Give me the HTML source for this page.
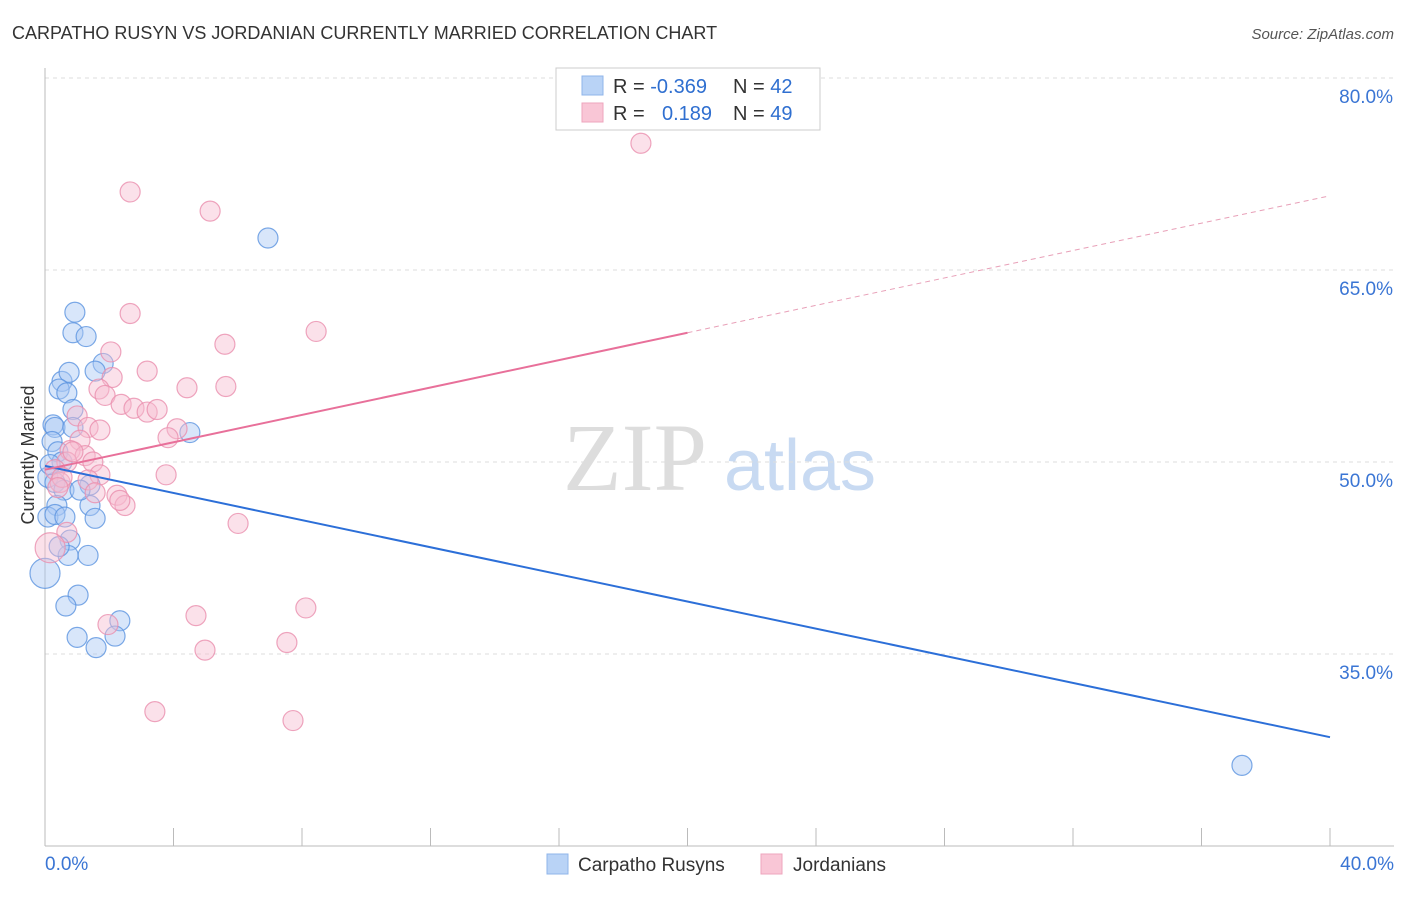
<!DOCTYPE html>
<html><head><meta charset="utf-8"><style>
body{margin:0;background:#fff;font-family:"Liberation Sans",sans-serif}
</style></head><body>
<svg id="c" width="1406" height="892" xmlns="http://www.w3.org/2000/svg" font-family="Liberation Sans, sans-serif">
<text x="12" y="39" font-size="18" fill="#333">CARPATHO RUSYN VS JORDANIAN CURRENTLY MARRIED CORRELATION CHART</text>
<text x="1394" y="39" font-size="15" fill="#555" font-style="italic" text-anchor="end">Source: ZipAtlas.com</text>
<text x="635" y="490" font-size="96" fill="#ddd" font-family="Liberation Serif, serif" text-anchor="middle">ZIP</text>
<text x="800" y="490" font-size="72" fill="#c8daf2" text-anchor="middle">atlas</text>
<text transform="translate(34,455) rotate(-90)" font-size="18" fill="#333" text-anchor="middle">Currently Married</text>
<g id="grid"></g><g id="axes"></g><g id="pts"></g><g id="lines"></g>
<g>
<rect x="556" y="68" width="264" height="62" fill="#fff" stroke="#ccc"/>
<rect x="582" y="76" width="21" height="19" fill="#b9d3f6" stroke="#8fb4ea"/>
<rect x="582" y="103" width="21" height="19" fill="#f9c6d6" stroke="#eea5bd"/>
<text x="613" y="93" font-size="20" fill="#333">R = <tspan fill="#2f6fd0">-0.369</tspan></text>
<text x="733" y="93" font-size="20" fill="#333">N = <tspan fill="#2f6fd0">42</tspan></text>
<text x="613" y="120" font-size="20" fill="#333">R = <tspan fill="#2f6fd0" x="662">0.189</tspan></text>
<text x="733" y="120" font-size="20" fill="#333">N = <tspan fill="#2f6fd0">49</tspan></text>
</g>
<g>
<rect x="547" y="854" width="21" height="20" fill="#b9d3f6" stroke="#8fb4ea"/>
<text x="578" y="871" font-size="19" fill="#333">Carpatho Rusyns</text>
<rect x="761" y="854" width="21" height="20" fill="#f9c6d6" stroke="#eea5bd"/>
<text x="793" y="871" font-size="19" fill="#333">Jordanians</text>
</g>
</svg>
<script>
const yTicks=[35,50,65,80];
const xTickLabels=["0.0%","40.0%"];
const blueX=[0.93,0.87,1.28,0.53,0.75,0.44,0.68,0.87,1.81,1.56,0.25,0.31,0.87,0.22,0.40,0.53,0.09,0.31,0.59,1.40,0.37,1.40,0.09,0.31,0.62,1.56,0.78,0.72,1.34,0.0,1.03,0.65,1.0,2.33,2.18,1.59,4.51,6.94,37.26,0.16,0.44,1.09];
const blueY=[61.7,60.1,59.8,56.3,57.0,55.7,55.4,54.1,57.7,57.1,52.9,52.7,52.7,51.6,50.8,50.0,48.8,48.4,47.8,48.2,46.6,46.6,45.7,45.9,45.7,45.6,43.9,42.7,42.7,41.3,39.6,38.75,36.3,37.6,36.4,35.5,52.3,67.5,26.3,49.8,43.4,47.8];
const pinkX=[18.55,2.65,5.14,8.44,2.65,5.60,2.05,3.18,2.09,1.68,4.42,5.63,1.87,2.37,2.77,3.18,3.49,1.0,1.34,4.11,3.83,1.09,0.78,1.25,1.49,0.68,0.31,1.71,3.77,1.34,0.47,1.56,2.24,2.49,6.01,0.68,0.16,4.70,8.12,1.96,4.98,7.53,3.42,7.72,2.33,0.53,0.87,0.40,1.71];
const pinkY=[74.9,71.1,69.6,60.2,61.6,59.2,58.6,57.1,56.6,55.7,55.8,55.9,55.2,54.5,54.2,53.9,54.1,53.6,52.7,52.6,51.9,51.7,50.9,50.5,50.0,50.0,49.4,49.0,49.0,48.6,48.4,47.6,47.4,46.6,45.2,44.5,43.3,38.0,38.6,37.3,35.3,35.9,30.5,29.8,47.0,48.8,50.8,48.0,52.5];
const blueTrend=[49.7,28.5];
const pinkTrend=[49.4,70.8];
const pinkSolidEnd=20;
const X=v=>45+v/40*1285, Y=v=>78+(80-v)/15*192;
const NS="http://www.w3.org/2000/svg";
function mk(p,t,a){const e=document.createElementNS(NS,t);for(const k in a)e.setAttribute(k,a[k]);document.getElementById(p).appendChild(e);return e;}
yTicks.forEach(t=>{
 const g=mk('grid','line',{x1:45,x2:1394,y1:Y(t),y2:Y(t),stroke:'#ddd','stroke-dasharray':'4,4'});
 
 
 const l=mk('grid','text',{x:1393,y:Y(t)+25,'font-size':19,fill:'#3a75d4','text-anchor':'end'});
 l.textContent=t.toFixed(1)+'%';
 
 
});
const ax=mk('axes','line',{x1:45,x2:45,y1:68,y2:846,stroke:'#bbb'});


const bx=mk('axes','line',{x1:45,x2:1394,y1:846,y2:846,stroke:'#bbb'});


for(let i=0;i<=10;i++){const t=mk('axes','line',{x1:X(i*4),x2:X(i*4),y1:828,y2:846,stroke:'#bbb'});
 
 }
const x0=mk('axes','text',{x:45,y:870,'font-size':19,fill:'#3a75d4'});x0.textContent=xTickLabels[0];


const x1=mk('axes','text',{x:1394,y:870,'font-size':19,fill:'#3a75d4','text-anchor':'end'});x1.textContent=xTickLabels[1];


function pts(xs,ys,fill,stroke,name){xs.forEach((v,i)=>{const big=(v<0.2&&(ys[i]>41&&ys[i]<44));
 const c=mk('pts','circle',{cx:X(v),cy:Y(ys[i]),r:big?15:10,fill:fill,'fill-opacity':0.45,stroke:stroke,'stroke-opacity':0.8,'stroke-width':1.2});
 
 });}
pts(blueX,blueY,'#a9c8f3','#5b93e0','carpatho-rusyn-point');
pts(pinkX,pinkY,'#f7bcd0','#ea8fae','jordanian-point');
const bl=mk('lines','line',{x1:X(0),y1:Y(blueTrend[0]),x2:X(40),y2:Y(blueTrend[1]),stroke:'#2c6fd8','stroke-width':2});


const pm=pinkTrend[0]+(pinkTrend[1]-pinkTrend[0])*pinkSolidEnd/40;
const pl=mk('lines','line',{x1:X(0),y1:Y(pinkTrend[0]),x2:X(pinkSolidEnd),y2:Y(pm),stroke:'#e8709a','stroke-width':2});


const pd=mk('lines','line',{x1:X(pinkSolidEnd),y1:Y(pm),x2:X(40),y2:Y(pinkTrend[1]),stroke:'#e8a0b8','stroke-width':1,'stroke-dasharray':'5,4'});


</script>
</body></html>
